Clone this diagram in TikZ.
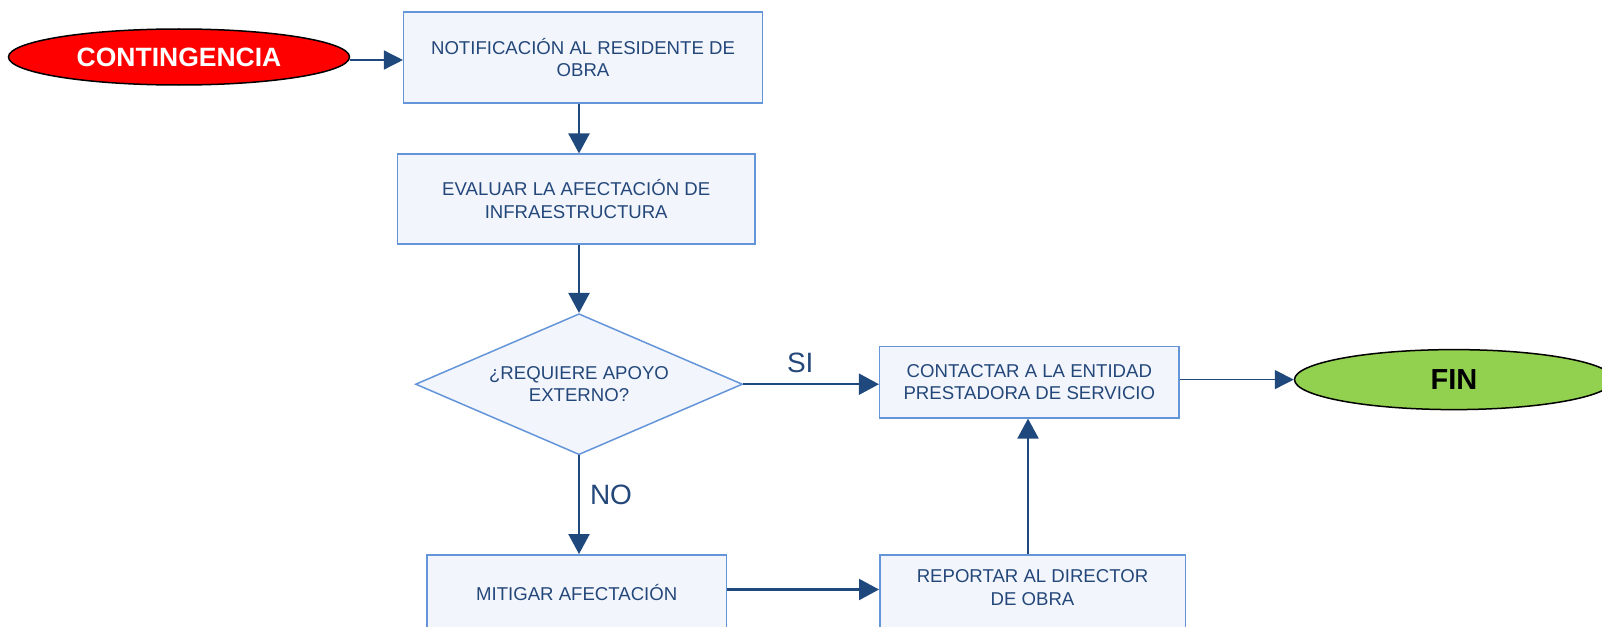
\documentclass[tikz,border=0pt]{standalone}
\usepackage{fontspec}
\setmainfont{Liberation Sans}
\usetikzlibrary{shapes.geometric,arrows.meta,calc}
\definecolor{boxfill}{HTML}{F2F6FC}
\definecolor{boxdraw}{HTML}{6495D9}
\definecolor{txtcol}{HTML}{24477A}
\definecolor{arrcol}{HTML}{1F497D}
\definecolor{redfill}{HTML}{FF0000}
\definecolor{greenfill}{HTML}{92D050}
\tikzset{
  stepbox/.style={rectangle, draw=boxdraw, fill=boxfill, line width=1.5pt, inner sep=0pt,
    align=center, text=txtcol, font=\fontsize{18.6}{22.5}\selectfont},
  decbox/.style={diamond, aspect=2.32, draw=boxdraw, fill=boxfill, line width=1.5pt, inner sep=0pt,
    align=center, text=txtcol, font=\fontsize{18.6}{22.5}\selectfont},
  term/.style={ellipse, draw=black, line width=1.5pt, inner sep=0pt, font=\bfseries\fontsize{26.5}{30}\selectfont},
  flow/.style={draw=arrcol, line width=2.2pt, -{Triangle[length=20pt,width=21pt]}},
  thinflow/.style={draw=arrcol, line width=1.5pt, -{Triangle[length=19pt,width=19pt]}},
  lbl/.style={text=txtcol, font=\fontsize{28}{32}\selectfont, inner sep=0pt}
}
\begin{document}
\begin{tikzpicture}[x=1pt,y=-1pt]
\clip (0,0) rectangle (1602,626);
\useasboundingbox (0,0) rectangle (1602,626);
\fill[white] (0,0) rectangle (1602,626);
\coordinate (colA) at (579,0);
\coordinate (colB) at (1028,0);
\coordinate (rowB) at (0,589.5);
\node[term, fill=redfill, text=white, minimum width=341pt, minimum height=56pt] (cont) at (179,57) {CONTINGENCIA};
\node[stepbox, minimum width=358.6pt, minimum height=91pt] (notif) at (583,57.7) {NOTIFICACIÓN AL RESIDENTE DE\\OBRA};
\node[stepbox, minimum width=357.6pt, minimum height=90pt] (eval) at (576.2,199.2) {EVALUAR LA AFECTACIÓN DE\\INFRAESTRUCTURA};
\node[decbox, minimum width=327pt, minimum height=141pt] (dia) at (579,384.2) {¿REQUIERE APOYO\\EXTERNO?};
\node[stepbox, minimum width=299.3pt, minimum height=71.5pt] (contact) at (1029.3,382.1) {CONTACTAR A LA ENTIDAD\\PRESTADORA DE SERVICIO};
\node[term, fill=greenfill, text=black, minimum width=319pt, minimum height=60pt, font=\bfseries\fontsize{29}{32}\selectfont] (fin) at (1454,379.6) {FIN};
\node[stepbox, minimum width=299.4pt, minimum height=75.6pt] (mit) at (576.7,592.6) {MITIGAR AFECTACIÓN};
\node[stepbox, minimum width=305.5pt, minimum height=87.5pt] (rep) at (1032.5,598.75) {REPORTAR AL DIRECTOR\\DE OBRA\\\mbox{}};
\draw[thinflow] (cont.east |- 0,60) -- (notif.west |- 0,60);
\draw[flow] (notif.south -| colA) -- (eval.north -| colA);
\draw[flow] (eval.south -| colA) -- (dia.north);
\draw[flow] (dia.east) -- (dia.east -| contact.west);
\node[lbl] (si) at ($(dia.east)+(57,-21.5)$) {SI};
\draw[thinflow] (fin.west -| contact.east) -- (fin.west);
\draw[flow] (dia.south) -- (dia.south |- mit.north);
\node[lbl] (no) at ($(dia.south)+(32,39)$) {NO};
\draw[flow] (mit.east |- rowB) -- (rep.west |- rowB);
\draw[flow] (rep.north -| colB) -- (contact.south -| colB);
\end{tikzpicture}
\end{document}
